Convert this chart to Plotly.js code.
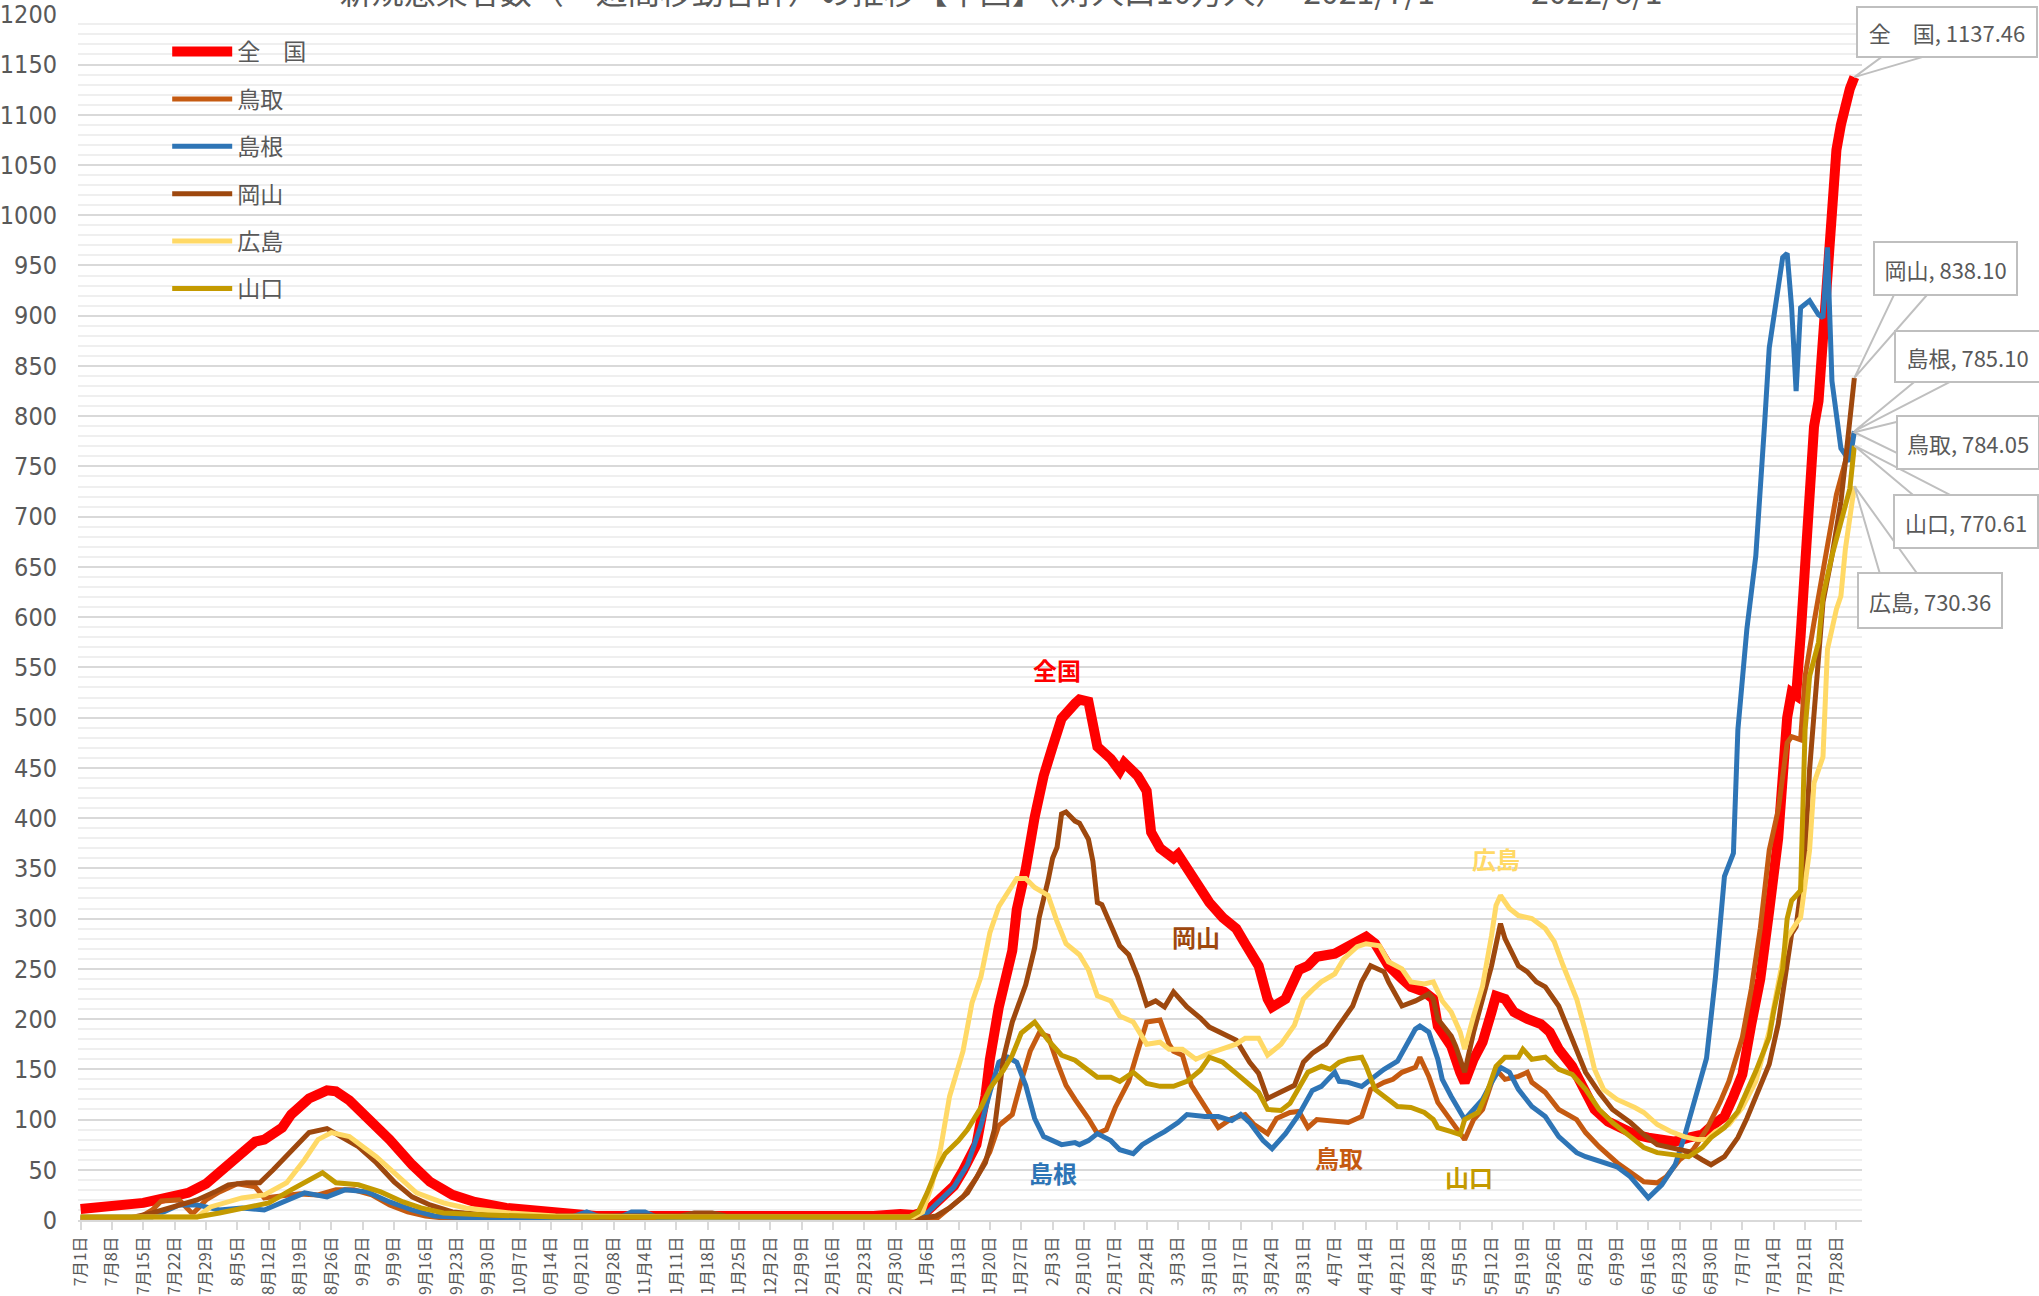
<!DOCTYPE html>
<html>
<head>
<meta charset="utf-8">
<script src="https://cdn.plot.ly/plotly-3.0.1.min.js"></script>
<style>
html,body{margin:0;padding:0;background:#ffffff;}
#chart{width:2039px;height:1296px;}
</style>
</head>
<body>
<div id="chart"></div>
<script>
// ---- Data ----
const chartTitle = "新規感染者数（一週間移動合計）の推移【中国】（対人口10万人）　2021/7/1　～　2022/8/1";
const seriesNames = ["全　国", "鳥取", "島根", "岡山", "広島", "山口"];
const seriesColors = ["#FF0000", "#C55A11", "#2E75B6", "#9E480E", "#FFD966", "#C49A00"];

const zenkoku = [
["2021-07-01",11],["2021-07-05",12],["2021-07-10",14],["2021-07-15",17],["2021-07-20",22],["2021-07-25",27],["2021-07-29",36],
["2021-08-02",52],["2021-08-05",63],["2021-08-09",78],["2021-08-11",80],["2021-08-15",92],["2021-08-17",105],["2021-08-21",121],
["2021-08-25",129],["2021-08-27",128],["2021-08-30",119],["2021-09-04",98],["2021-09-08",80],["2021-09-13",55],["2021-09-17",38],
["2021-09-22",25],["2021-09-27",18],["2021-10-04",12],["2021-10-14",7],["2021-10-24",4],["2021-11-15",4],["2021-12-10",3],
["2021-12-25",4],["2021-12-31",6],["2022-01-03",5],["2022-01-06",9],["2022-01-09",21],["2022-01-12",34],["2022-01-14",49],
["2022-01-17",75],["2022-01-19",123],["2022-01-20",160],["2022-01-22",212],["2022-01-23",231],["2022-01-25",268],["2022-01-26",309],
["2022-01-28",349],["2022-01-30",401],["2022-02-01",442],["2022-02-03",471],["2022-02-05",499],["2022-02-08",514],["2022-02-09",518],
["2022-02-11",516],["2022-02-12",490],["2022-02-13",471],["2022-02-16",459],["2022-02-18",447],["2022-02-19",455],["2022-02-22",442],
["2022-02-24",427],["2022-02-25",386],["2022-02-27",370],["2022-03-02",360],["2022-03-03",364],["2022-03-05",349],["2022-03-08",331],
["2022-03-10",316],["2022-03-13",301],["2022-03-16",290],["2022-03-18",275],["2022-03-21",253],["2022-03-23",220],["2022-03-24",212],
["2022-03-27",220],["2022-03-30",249],["2022-04-01",253],["2022-04-03",262],["2022-04-07",265],["2022-04-10",273],["2022-04-14",282],
["2022-04-16",275],["2022-04-19",253],["2022-04-22",240],["2022-04-24",232],["2022-04-27",227],["2022-04-29",220],["2022-04-30",193],
["2022-05-03",173],["2022-05-05",147],["2022-05-06",137],["2022-05-08",160],["2022-05-10",177],["2022-05-12",207],["2022-05-13",223],
["2022-05-15",220],["2022-05-17",207],["2022-05-20",200],["2022-05-23",195],["2022-05-25",187],["2022-05-27",170],["2022-05-30",153],
["2022-06-02",127],["2022-06-04",110],["2022-06-07",98],["2022-06-10",92],["2022-06-13",85],["2022-06-16",82],["2022-06-19",80],
["2022-06-22",78],["2022-06-25",82],["2022-06-28",85],["2022-06-30",93],["2022-07-03",103],["2022-07-05",123],["2022-07-07",145],
["2022-07-09",195],["2022-07-11",240],["2022-07-13",308],["2022-07-15",380],["2022-07-16",440],["2022-07-17",500],["2022-07-18",525],
["2022-07-19",522],["2022-07-20",581],["2022-07-21",650],["2022-07-22",730],["2022-07-23",790],["2022-07-24",815],["2022-07-25",882],
["2022-07-26",968],["2022-07-27",1035],["2022-07-28",1065],["2022-07-29",1090],["2022-07-30",1112],["2022-07-31",1126],["2022-08-01",1137.46]
];

const tottori = [
["2021-07-01",2],["2021-07-14",2],["2021-07-17",10],["2021-07-19",19],["2021-07-23",20],["2021-07-26",6],["2021-07-29",20],
["2021-08-01",28],["2021-08-05",36],["2021-08-09",33],["2021-08-11",22],["2021-08-15",24],["2021-08-19",26],["2021-08-23",25],
["2021-08-27",30],["2021-08-31",30],["2021-09-04",25],["2021-09-08",15],["2021-09-12",8],["2021-09-16",4],["2021-09-22",1],
["2021-10-15",2],["2021-11-10",1],["2021-12-10",1],["2021-12-31",1],
["2022-01-08",1],["2022-01-11",12],["2022-01-14",23],["2022-01-17",42],["2022-01-20",68],["2022-01-22",94],["2022-01-25",105],
["2022-01-27",138],["2022-01-29",168],["2022-01-31",186],["2022-02-02",183],["2022-02-04",157],["2022-02-06",134],["2022-02-08",120],
["2022-02-11",101],["2022-02-13",86],["2022-02-15",90],["2022-02-17",112],["2022-02-20",138],["2022-02-22",168],["2022-02-24",197],
["2022-02-27",199],["2022-03-01",175],["2022-03-02",168],["2022-03-04",164],["2022-03-06",134],["2022-03-08",120],["2022-03-11",99],
["2022-03-12",92],["2022-03-15",101],["2022-03-18",105],["2022-03-20",95],["2022-03-23",86],["2022-03-25",101],["2022-03-28",107],
["2022-03-30",108],["2022-04-01",92],["2022-04-03",100],["2022-04-07",98],["2022-04-10",97],["2022-04-13",103],["2022-04-15",130],
["2022-04-18",137],["2022-04-20",140],["2022-04-22",147],["2022-04-25",152],["2022-04-26",162],["2022-04-28",143],["2022-04-30",117],
["2022-05-03",98],["2022-05-05",87],["2022-05-06",80],["2022-05-08",100],["2022-05-10",110],["2022-05-13",150],["2022-05-15",140],
["2022-05-18",143],["2022-05-20",147],["2022-05-21",137],["2022-05-24",127],["2022-05-27",110],["2022-05-31",100],["2022-06-02",87],
["2022-06-05",73],["2022-06-09",57],["2022-06-12",47],["2022-06-15",38],["2022-06-18",37],["2022-06-20",43],["2022-06-23",60],
["2022-06-26",70],["2022-06-29",90],["2022-07-02",117],["2022-07-04",138],["2022-07-07",182],["2022-07-09",230],["2022-07-11",290],
["2022-07-13",368],["2022-07-15",408],["2022-07-17",475],["2022-07-18",481],["2022-07-20",478],["2022-07-21",541],["2022-07-23",595],
["2022-07-24",621],["2022-07-26",675],["2022-07-28",722],["2022-07-30",755],["2022-08-01",784.05]
];

const shimane = [
["2021-07-01",3],["2021-07-17",3],["2021-07-23",15],["2021-07-27",15],["2021-08-01",10],["2021-08-06",12],["2021-08-11",10],
["2021-08-16",20],["2021-08-20",27],["2021-08-25",23],["2021-08-29",30],["2021-09-03",28],["2021-09-08",18],["2021-09-13",10],
["2021-09-18",4],["2021-09-26",2],["2021-10-18",2],["2021-10-22",8],["2021-10-25",3],["2021-10-30",4],["2021-11-01",8],
["2021-11-04",8],["2021-11-07",2],["2021-12-31",1],
["2022-01-03",3],["2022-01-06",7],["2022-01-09",20],["2022-01-12",33],["2022-01-15",55],["2022-01-18",94],["2022-01-20",127],
["2022-01-22",157],["2022-01-24",162],["2022-01-26",157],["2022-01-28",134],["2022-01-30",101],["2022-02-01",83],["2022-02-03",79],
["2022-02-05",75],["2022-02-08",77],["2022-02-09",75],["2022-02-11",79],["2022-02-13",86],["2022-02-16",79],["2022-02-18",70],
["2022-02-21",66],["2022-02-23",75],["2022-02-26",83],["2022-02-28",88],["2022-03-03",97],["2022-03-05",105],["2022-03-09",103],
["2022-03-12",103],["2022-03-15",99],["2022-03-17",105],["2022-03-19",97],["2022-03-22",79],["2022-03-24",71],["2022-03-27",86],
["2022-03-30",105],["2022-04-02",129],["2022-04-04",133],["2022-04-07",147],["2022-04-08",138],["2022-04-10",137],["2022-04-13",133],
["2022-04-15",140],["2022-04-18",150],["2022-04-21",158],["2022-04-23",173],["2022-04-25",190],["2022-04-26",193],["2022-04-28",187],
["2022-04-30",160],["2022-05-01",140],["2022-05-03",123],["2022-05-06",100],["2022-05-08",110],["2022-05-10",120],["2022-05-12",137],
["2022-05-14",152],["2022-05-16",147],["2022-05-18",130],["2022-05-21",113],["2022-05-24",103],["2022-05-27",83],["2022-05-31",67],
["2022-06-02",63],["2022-06-06",57],["2022-06-09",53],["2022-06-12",43],["2022-06-14",33],["2022-06-16",22],["2022-06-19",35],
["2022-06-22",55],["2022-06-24",82],["2022-06-26",115],["2022-06-29",161],["2022-07-01",242],["2022-07-03",342],["2022-07-05",365],
["2022-07-06",488],["2022-07-08",588],["2022-07-10",661],["2022-07-12",795],["2022-07-13",868],["2022-07-15",928],["2022-07-16",958],
["2022-07-17",962],["2022-07-18",908],["2022-07-19",825],["2022-07-20",908],["2022-07-22",915],["2022-07-24",901],["2022-07-25",898],
["2022-07-26",968],["2022-07-27",835],["2022-07-29",768],["2022-07-31",755],["2022-08-01",785.10]
];

const okayama = [
["2021-07-01",2],["2021-07-12",2],["2021-07-17",7],["2021-07-22",13],["2021-07-27",20],["2021-07-31",28],["2021-08-03",35],
["2021-08-07",37],["2021-08-10",37],["2021-08-13",50],["2021-08-17",68],["2021-08-21",87],["2021-08-25",91],["2021-08-28",83],
["2021-09-01",73],["2021-09-05",57],["2021-09-09",38],["2021-09-13",23],["2021-09-17",15],["2021-09-22",8],["2021-09-30",5],
["2021-10-15",4],["2021-11-12",4],["2021-11-15",7],["2021-11-19",7],["2021-11-22",4],["2021-12-20",3],["2021-12-31",2],
["2022-01-05",2],["2022-01-08",4],["2022-01-11",12],["2022-01-15",27],["2022-01-19",57],["2022-01-21",90],["2022-01-23",160],
["2022-01-25",197],["2022-01-28",234],["2022-01-30",271],["2022-01-31",301],["2022-02-02",338],["2022-02-03",360],["2022-02-04",371],
["2022-02-05",404],["2022-02-06",406],["2022-02-08",397],["2022-02-09",395],["2022-02-11",379],["2022-02-12",357],["2022-02-13",316],
["2022-02-14",314],["2022-02-16",294],["2022-02-18",273],["2022-02-20",264],["2022-02-22",242],["2022-02-24",214],["2022-02-26",218],
["2022-02-28",212],["2022-03-02",227],["2022-03-05",212],["2022-03-08",201],["2022-03-10",192],["2022-03-13",186],["2022-03-16",179],
["2022-03-19",157],["2022-03-21",146],["2022-03-23",121],["2022-03-26",127],["2022-03-29",134],["2022-03-31",157],["2022-04-02",166],
["2022-04-05",175],["2022-04-08",194],["2022-04-11",213],["2022-04-13",237],["2022-04-15",253],["2022-04-18",247],["2022-04-19",237],
["2022-04-22",213],["2022-04-25",218],["2022-04-28",225],["2022-04-29",220],["2022-04-30",200],["2022-05-03",183],["2022-05-04",173],
["2022-05-06",147],["2022-05-08",187],["2022-05-10",220],["2022-05-12",253],["2022-05-14",295],["2022-05-15",280],["2022-05-18",253],
["2022-05-20",247],["2022-05-22",237],["2022-05-24",232],["2022-05-27",213],["2022-05-29",190],["2022-05-31",170],["2022-06-02",147],
["2022-06-05",127],["2022-06-08",110],["2022-06-12",97],["2022-06-15",85],["2022-06-18",75],["2022-06-21",72],["2022-06-25",68],
["2022-06-28",60],["2022-06-30",55],["2022-07-03",63],["2022-07-06",82],["2022-07-08",101],["2022-07-10",122],["2022-07-13",155],
["2022-07-15",195],["2022-07-17",255],["2022-07-18",285],["2022-07-19",292],["2022-07-21",361],["2022-07-22",448],["2022-07-24",555],
["2022-07-25",615],["2022-07-27",661],["2022-07-29",715],["2022-07-30",755],["2022-07-31",801],["2022-08-01",838.10]
];

const hiroshima = [
["2021-07-01",3],["2021-07-27",3],["2021-07-30",13],["2021-08-06",22],["2021-08-11",25],["2021-08-16",37],["2021-08-20",60],
["2021-08-23",80],["2021-08-26",87],["2021-08-30",83],["2021-09-05",63],["2021-09-10",43],["2021-09-14",27],["2021-09-20",17],
["2021-09-25",12],["2021-10-05",7],["2021-10-15",4],["2021-11-15",3],["2021-12-31",2],
["2022-01-03",3],["2022-01-05",8],["2022-01-07",34],["2022-01-09",71],["2022-01-11",123],["2022-01-14",168],["2022-01-16",216],
["2022-01-18",242],["2022-01-20",286],["2022-01-22",312],["2022-01-24",327],["2022-01-26",340],["2022-01-28",340],["2022-01-30",331],
["2022-02-02",323],["2022-02-04",297],["2022-02-06",275],["2022-02-09",264],["2022-02-11",249],["2022-02-13",223],["2022-02-16",218],
["2022-02-18",203],["2022-02-21",197],["2022-02-24",175],["2022-02-27",177],["2022-03-01",170],["2022-03-04",170],["2022-03-07",160],
["2022-03-10",166],["2022-03-13",170],["2022-03-16",175],["2022-03-18",181],["2022-03-21",181],["2022-03-23",164],["2022-03-26",175],
["2022-03-29",194],["2022-03-31",220],["2022-04-02",229],["2022-04-04",237],["2022-04-07",245],["2022-04-09",260],["2022-04-12",272],
["2022-04-14",275],["2022-04-17",273],["2022-04-19",257],["2022-04-22",250],["2022-04-24",237],["2022-04-27",235],["2022-04-29",237],
["2022-05-01",218],["2022-05-03",207],["2022-05-05",187],["2022-05-06",170],["2022-05-08",203],["2022-05-10",233],["2022-05-12",283],
["2022-05-13",313],["2022-05-14",323],["2022-05-16",310],["2022-05-18",303],["2022-05-21",300],["2022-05-24",290],["2022-05-26",277],
["2022-05-28",253],["2022-05-31",220],["2022-06-02",187],["2022-06-04",150],["2022-06-06",130],["2022-06-09",120],["2022-06-13",112],
["2022-06-15",107],["2022-06-18",95],["2022-06-21",88],["2022-06-24",83],["2022-06-27",80],["2022-06-29",80],["2022-07-01",88],
["2022-07-04",95],["2022-07-07",112],["2022-07-10",138],["2022-07-13",188],["2022-07-15",235],["2022-07-17",281],["2022-07-19",295],
["2022-07-20",301],["2022-07-22",368],["2022-07-23",435],["2022-07-25",461],["2022-07-26",568],["2022-07-28",608],["2022-07-29",621],
["2022-07-30",668],["2022-07-31",700],["2022-08-01",730.36]
];

const yamaguchi = [
["2021-07-01",3],["2021-07-27",3],["2021-08-01",7],["2021-08-07",12],["2021-08-12",17],["2021-08-17",30],["2021-08-21",40],
["2021-08-24",47],["2021-08-27",37],["2021-09-01",35],["2021-09-06",28],["2021-09-11",18],["2021-09-15",12],["2021-09-20",7],
["2021-09-30",5],["2021-10-15",3],["2021-12-31",3],
["2022-01-02",3],["2022-01-04",8],["2022-01-06",27],["2022-01-08",49],["2022-01-10",66],["2022-01-13",79],["2022-01-15",90],
["2022-01-18",112],["2022-01-20",131],["2022-01-23",149],["2022-01-25",164],["2022-01-27",186],["2022-01-30",197],["2022-02-02",179],
["2022-02-05",164],["2022-02-08",159],["2022-02-11",149],["2022-02-13",142],["2022-02-16",142],["2022-02-18",138],["2022-02-21",147],
["2022-02-24",136],["2022-02-27",133],["2022-03-02",133],["2022-03-05",138],["2022-03-08",149],["2022-03-10",162],["2022-03-13",157],
["2022-03-16",146],["2022-03-19",134],["2022-03-21",127],["2022-03-23",110],["2022-03-26",109],["2022-03-28",116],["2022-03-30",131],
["2022-04-01",147],["2022-04-04",153],["2022-04-06",150],["2022-04-08",157],["2022-04-10",160],["2022-04-13",162],["2022-04-14",153],
["2022-04-16",130],["2022-04-19",120],["2022-04-21",113],["2022-04-24",112],["2022-04-27",107],["2022-04-29",100],["2022-04-30",92],
["2022-05-03",88],["2022-05-05",85],["2022-05-06",100],["2022-05-09",107],["2022-05-11",127],["2022-05-13",153],["2022-05-15",162],
["2022-05-18",162],["2022-05-19",170],["2022-05-21",160],["2022-05-24",162],["2022-05-27",150],["2022-05-30",145],["2022-06-02",130],
["2022-06-05",110],["2022-06-08",97],["2022-06-12",83],["2022-06-15",72],["2022-06-18",67],["2022-06-21",65],["2022-06-25",63],
["2022-06-28",72],["2022-06-30",82],["2022-07-03",92],["2022-07-06",108],["2022-07-08",128],["2022-07-10",148],["2022-07-13",182],
["2022-07-14",208],["2022-07-16",250],["2022-07-17",300],["2022-07-18",318],["2022-07-20",328],["2022-07-21",488],["2022-07-22",541],
["2022-07-24",575],["2022-07-25",621],["2022-07-27",661],["2022-07-29",695],["2022-07-31",728],["2022-08-01",770.61]
];

const seriesData = [zenkoku, tottori, shimane, okayama, hiroshima, yamaguchi];

// ---- Styling ----
const cjk = "'Noto Sans CJK JP', 'Noto Sans', sans-serif";
const narrow = "'Liberation Sans Narrow', 'DejaVu Sans Condensed', 'Roboto', sans-serif";
const gray = "#595959";
const calloutLine = "#BFBFBF";
const lineWidths = [10, 5, 5, 5, 5, 5];
const xRange = ['2021-06-30 10:00', '2022-08-02 17:00'];
const yRange = [0, 1200.3];

const traces = seriesData.map((d, i) => ({
  type: 'scatter',
  mode: 'lines',
  name: seriesNames[i],
  legendgroup: 'g' + i,
  x: d.map(p => p[0]),
  y: d.map(p => p[1]),
  line: {color: seriesColors[i], width: lineWidths[i]},
  hoverinfo: 'skip'
}));

// in-chart series labels (positions are layout)
const labelSpecs = [
  {i: 0, x: '2022-02-04', y: 548},
  {i: 3, x: '2022-03-07', y: 282},
  {i: 2, x: '2022-02-03', y: 47},
  {i: 1, x: '2022-04-08', y: 62},
  {i: 4, x: '2022-05-13', y: 360},
  {i: 5, x: '2022-05-07', y: 43}
];
const labelText = ['全国', '鳥取', '島根', '岡山', '広島', '山口'];

const annotations = labelSpecs.map(s => ({
  x: s.x, y: s.y, xref: 'x', yref: 'y',
  text: '<b>' + labelText[s.i] + '</b>',
  showarrow: false,
  font: {family: cjk, size: 24, color: seriesColors[s.i]}
}));

// callout boxes: offsets in screen px (down positive) relative to the last point
const callouts = [
  {dx: 93, dy: -45, w: 170, h: 40, p1: [31, -23], p2: [78, -23]},
  {dx: 114, dy: 10, w: 132, h: 43, p1: [45, -11], p2: [45, 22]},
  {dx: 113, dy: -75, w: 135, h: 41, p1: [62, -51], p2: [99, -51]},
  {dx: 91, dy: -109, w: 133, h: 43, p1: [42, -88], p2: [77, -88]},
  {dx: 76, dy: 114, w: 134, h: 45, p1: [26, 89], p2: [64, 89]},
  {dx: 112, dy: 76, w: 134, h: 43, p1: [62, 52], p2: [101, 52]}
];

function toMs(s) { return Date.parse(s.replace(' ', 'T') + (s.length <= 10 ? 'T00:00:00Z' : ':00Z')); }
const xr0 = toMs(xRange[0]), xr1 = toMs(xRange[1]);

const shapes = [];
seriesData.forEach((d, i) => {
  const last = d[d.length - 1];
  const c = callouts[i];
  // wedge pointer (paper-anchored so it is not clipped at the plot edge)
  shapes.push({
    type: 'path', layer: 'above',
    xref: 'paper', yref: 'paper', xsizemode: 'pixel', ysizemode: 'pixel',
    xanchor: (toMs(last[0]) - xr0) / (xr1 - xr0),
    yanchor: (last[1] - yRange[0]) / (yRange[1] - yRange[0]),
    path: 'M0,0 L' + c.p1[0] + ',' + (-c.p1[1]) + ' L' + c.p2[0] + ',' + (-c.p2[1]) + ' Z',
    fillcolor: '#FFFFFF', line: {color: calloutLine, width: 2}
  });
  annotations.push({
    x: last[0], y: last[1], xref: 'x', yref: 'y',
    xanchor: 'center', yanchor: 'middle',
    xshift: c.dx, yshift: -c.dy,
    width: c.w, height: c.h,
    text: seriesNames[i] + ', ' + last[1].toFixed(2),
    showarrow: false,
    bgcolor: '#FFFFFF', bordercolor: calloutLine, borderwidth: 2, borderpad: 4,
    font: {family: cjk, size: 22, color: gray}
  });
});

const layout = {
  width: 2039, height: 1296,
  paper_bgcolor: '#FFFFFF', plot_bgcolor: '#FFFFFF',
  margin: {l: 78, r: 177, t: 14, b: 76, pad: 0},
  title: {
    text: chartTitle,
    font: {family: cjk, size: 32, color: gray},
    xref: 'container', yref: 'container', x: 0.491, xanchor: 'center',
    y: 0.997, yanchor: 'bottom'
  },
  showlegend: true,
  legend: {
    x: 0.050, y: 0.9867, xanchor: 'left', yanchor: 'top',
    bgcolor: 'rgba(0,0,0,0)', borderwidth: 0,
    font: {family: cjk, size: 23, color: gray},
    traceorder: 'grouped', tracegroupgap: 14.5, itemwidth: 60
  },
  xaxis: {
    type: 'date',
    range: xRange,
    tick0: '2021-07-01', dtick: 7 * 86400000,
    tickformat: '%-m月%-d日',
    tickangle: -90,
    tickfont: {family: cjk, size: 16, color: gray},
    ticks: 'outside', ticklen: 8, tickwidth: 2, tickcolor: '#D9D9D9',
    showline: true, linecolor: '#D9D9D9', linewidth: 2,
    showgrid: false, zeroline: false, fixedrange: true
  },
  yaxis: {
    range: yRange, dtick: 50, tick0: 0,
    tickfont: {family: narrow, size: 25, color: gray},
    ticklabelstandoff: 20,
    showgrid: true, gridcolor: '#D9D9D9', gridwidth: 2,
    minor: {dtick: 10, showgrid: true, gridcolor: '#EFEFEF', gridwidth: 2},
    zeroline: false, showline: false, ticks: '', fixedrange: true
  },
  shapes: shapes,
  annotations: annotations
};

Plotly.newPlot('chart', traces, layout, {staticPlot: true, displayModeBar: false});
</script>
</body>
</html>
